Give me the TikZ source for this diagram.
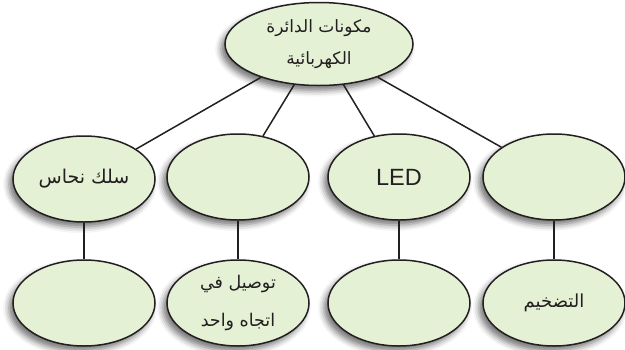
\documentclass[tikz,border=0pt]{standalone}
\usepackage{fontspec}
\setmainfont{Liberation Sans}
\newfontfamily\arabicfont[Script=Arabic]{DejaVu Sans}
\TeXXeTstate=1
\usetikzlibrary{shapes.geometric,shadows.blur}
\definecolor{bubblegreen}{RGB}{229,241,213}
\definecolor{inkline}{RGB}{35,31,32}

\begin{document}
\begin{tikzpicture}[x=1pt,y=-1pt,
  bubble/.style={ellipse,draw=inkline,line width=1.5pt,fill=bubblegreen,
    minimum width=142pt,minimum height=86pt,inner sep=0pt,align=center,
    text=inkline,font=\arabicfont\fontsize{17.5}{38}\selectfont,
    blur shadow={shadow xshift=-4pt,shadow yshift=-5pt,
      shadow blur radius=6pt,shadow opacity=55}},
  link/.style={line width=1.5pt,inkline}]
\useasboundingbox (0,0) rectangle (625,349);
% top
\node[bubble,minimum width=188pt,minimum height=83pt,
  font=\arabicfont\fontsize{17}{32}\selectfont] (root) at (319,44)
  {\beginR مكونات الدائرة\endR\\\beginR الكهربائية\endR};
% middle row
\node[bubble,font=\arabicfont\fontsize{19}{24}\selectfont] (wire) at (84,179) {\beginR سلك نحاس\endR};
\node[bubble] (mid2) at (238,177) {};
\node[bubble,font=\fontsize{23.5}{28}\selectfont] (led) at (399,177) {LED};
\node[bubble] (mid4) at (554,177) {};
% bottom row
\node[bubble] (low1) at (84,303) {};
\node[bubble] (oneway) at (238,303) {\beginR توصيل في\endR\\\beginR اتجاه واحد\endR};
\node[bubble] (low3) at (399,303) {};
\node[bubble,font=\arabicfont\fontsize{18}{24}\selectfont] (amplify) at (554,303) {\beginR التضخيم\endR};
% links
\draw[link] (root) -- (wire);
\draw[link] (root) -- (mid2);
\draw[link] (root) -- (led);
\draw[link] (root) -- (mid4);
\draw[link] (wire) -- (low1);
\draw[link] (mid2) -- (oneway);
\draw[link] (led) -- (low3);
\draw[link] (mid4) -- (amplify);
\end{tikzpicture}
\end{document}
